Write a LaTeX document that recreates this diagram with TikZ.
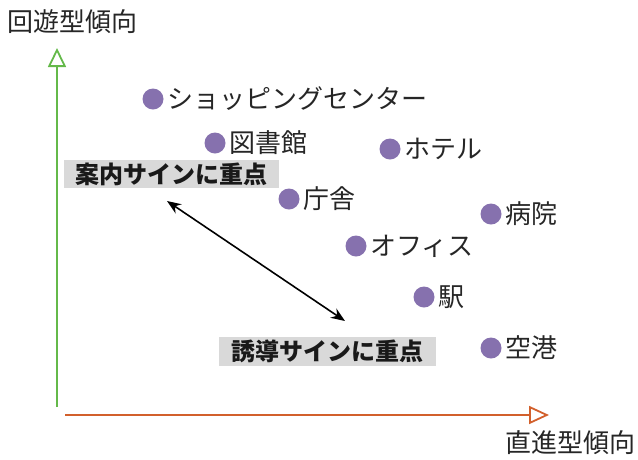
\documentclass[tikz,border=0pt]{standalone}
\usepackage{fontspec}
\setmainfont{Noto Sans CJK JP}
\usetikzlibrary{arrows.meta}
\definecolor{dotc}{HTML}{8671AE}
\definecolor{axg}{HTML}{64B94A}
\definecolor{axo}{HTML}{D2602C}
\definecolor{boxg}{HTML}{D9D9D9}
\tikzset{
  lbl/.style={anchor=west, inner sep=0pt, font=\fontsize{26pt}{26pt}\selectfont, text=black!85},
  dotn/.style={circle, fill=dotc, minimum size=21pt, inner sep=0pt},
  axtitle/.style={anchor=center, inner sep=0pt, font=\fontsize{26pt}{26pt}\selectfont, text=black!85},
  signbox/.style={fill=boxg, inner sep=0pt, font=\bfseries\fontsize{24pt}{24pt}\selectfont, text=black!90},
}
\begin{document}
\begin{tikzpicture}[x=1pt,y=-1pt]
\useasboundingbox (0,0) rectangle (638,459);
% axes
\coordinate (ya0) at (57,407);
\coordinate (ya1) at (57,48);
\coordinate (xa0) at (65,415);
\coordinate (xa1) at (549,415);
\draw[axg, line width=1.8pt, -{Triangle[open, length=19pt, width=18pt, line width=1.8pt]}] (ya0) -- (ya1);
\draw[axo, line width=1.8pt, -{Triangle[open, length=20pt, width=18pt, line width=1.8pt]}] (xa0) -- (xa1);
\node[axtitle] (yt) at (73,22) {回遊型傾向};
\node[axtitle] (xt) at (570,443) {直進型傾向};
% points
\node[dotn] (d1) at (153,99) {};
\node[lbl] (t1) at (167,99) {ショッピングセンター};
\node[dotn] (d2) at (215,143) {};
\node[lbl] (t2) at (229,143) {図書館};
\node[dotn] (d3) at (390,149) {};
\node[lbl] (t3) at (404,149) {ホテル};
\node[dotn] (d4) at (289,199) {};
\node[lbl] (t4) at (303,199) {庁舎};
\node[dotn] (d5) at (491,214) {};
\node[lbl] (t5) at (505,214) {病院};
\node[dotn] (d6) at (356,246) {};
\node[lbl] (t6) at (370,246) {オフィス};
\node[dotn] (d7) at (424,297) {};
\node[lbl] (t7) at (438,297) {駅};
\node[dotn] (d8) at (491,348) {};
\node[lbl] (t8) at (505,348) {空港};
% sign boxes
\node[signbox, minimum width=215pt, minimum height=28pt] (s1) at (171.5,174) {案内サインに重点};
\node[signbox, minimum width=217pt, minimum height=29pt] (s2) at (327.5,351.5) {誘導サインに重点};
% double arrow
\coordinate (a1) at (167,201);
\coordinate (a2) at (345,321);
\draw[black, line width=1.6pt, {Stealth[length=14pt,width=11pt]}-{Stealth[length=14pt,width=11pt]}] (a1) -- (a2);
\end{tikzpicture}
\end{document}
